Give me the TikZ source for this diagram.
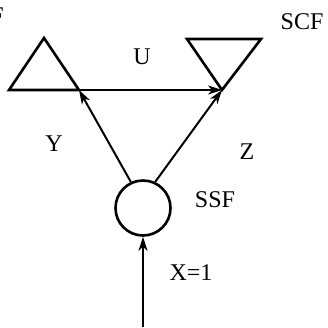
\documentclass[tikz,border=0pt]{standalone}
\usepackage{fontspec}
\setmainfont{Liberation Serif}
\usetikzlibrary{arrows.meta}
\begin{document}
\begin{tikzpicture}[x=1pt,y=-1pt,
  shape line/.style={line width=2.6pt, line join=miter},
  flow/.style={line width=2pt, -{Stealth[length=14pt,width=9pt,inset=4pt]}},
  lbl/.style={font=\fontsize{24}{24}\selectfont, inner sep=0pt}]
\useasboundingbox (0,0) rectangle (328,327);
% left triangle
\coordinate (la) at (44,38);
\coordinate (lb) at (9,90);
\coordinate (lc) at (79,90);
\draw[shape line] (la) -- (lb) -- (lc) -- cycle;
% right triangle
\coordinate (ra) at (187,39);
\coordinate (rb) at (261,39);
\coordinate (rc) at (222,90);
\draw[shape line] (ra) -- (rb) -- (rc) -- cycle;
% circle
\node[circle, draw, line width=2.6pt, minimum size=55pt, inner sep=0pt] (ssf) at (143,208) {};
\coordinate (in) at (143,327);
% connectors
\draw[flow] (lb) -- (rc);
\draw[flow] (ssf.115) -- (lc);
\draw[flow] (ssf.65) -- (rc);
\draw[flow] (in) -- (ssf.south);
% labels
\node[lbl, anchor=east] (tf) at (4,16) {F};
\node[lbl] (tu) at (142,57) {U};
\node[lbl] (tscf) at (302,22) {SCF};
\node[lbl] (ty) at (54,144) {Y};
\node[lbl] (tz) at (247,152) {Z};
\node[lbl] (tssf) at (215,200) {SSF};
\node[lbl] (tx) at (191,273) {X=1};
\end{tikzpicture}
\end{document}
